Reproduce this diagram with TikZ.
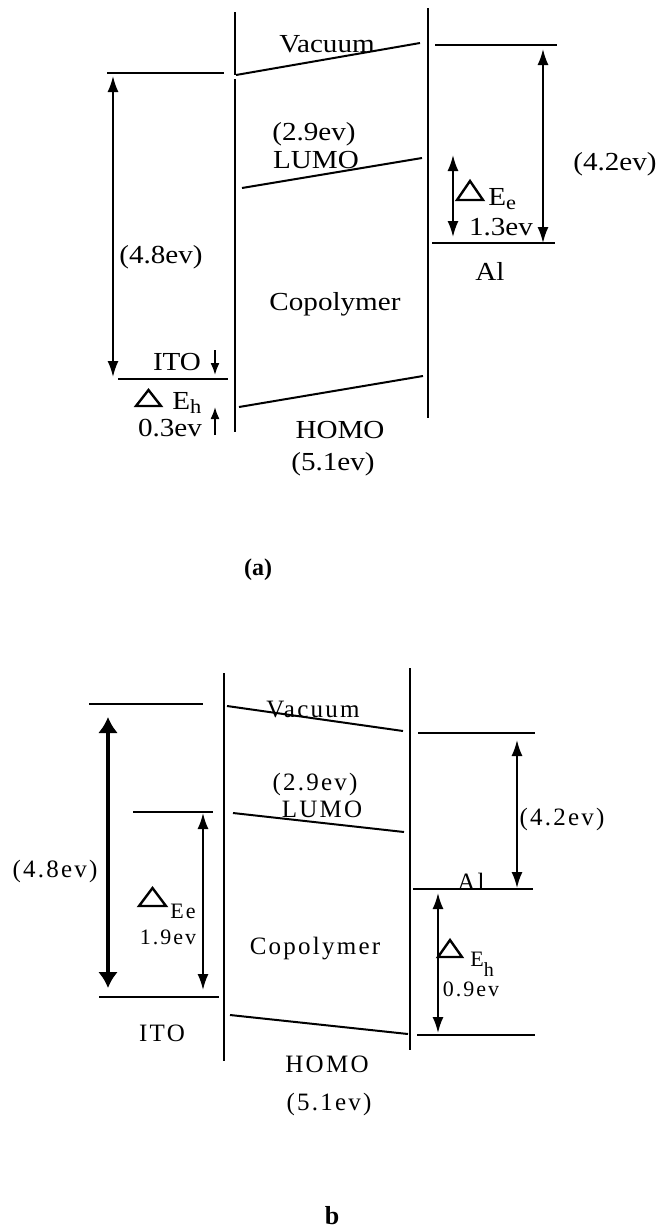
\documentclass[tikz,border=0pt]{standalone}
\usepackage{fontspec}
\setmainfont{Liberation Serif}
\newfontfamily\widefont[FakeStretch=1.12]{Liberation Serif}
\newfontfamily\spacedfont[LetterSpace=9]{Liberation Serif}
\usepackage{tikz}
\usetikzlibrary{arrows.meta}
\newcommand{\lowsub}[3]{\raisebox{-#1}{\fontsize{#2}{#2}\selectfont #3}}
\tikzset{
  wall/.style={line width=1.3pt},
  lvl/.style={line width=1pt},
  tri/.style={line width=1.2pt,line join=miter},
  darr/.style={{Latex[length=8pt,width=5.5pt]}-{Latex[length=8pt,width=5.5pt]},line width=0.9pt},
  sarr/.style={-{Latex[length=6pt,width=4.5pt]},line width=0.9pt},
  bigarr/.style={{Latex[length=8pt,width=10pt]}-{Latex[length=8pt,width=10pt]},line width=1.8pt},
  lbla/.style={font=\widefont\fontsize{13}{16}\selectfont,inner sep=0pt,anchor=base},
  lblb/.style={font=\spacedfont\fontsize{12.5}{15}\selectfont,inner sep=0pt,anchor=base},
  lblbs/.style={font=\spacedfont\fontsize{11}{13}\selectfont,inner sep=0pt,anchor=base},
}

\begin{document}
\begin{tikzpicture}[x=0.5pt,y=-0.5pt]
  \useasboundingbox (0,0) rectangle (661,1227);
  % (a)
  \draw[wall] (235,12) -- (235,75);
  \draw[wall] (235,79) -- (235,432);
  \draw[wall] (428,8) -- (428,418);
  \draw[lvl] (107,73) -- (224,73);
  \draw[lvl] (236,75) -- (420,43);
  \draw[lvl] (435,45) -- (557,45);
  \draw[lvl] (242,188) -- (422,158);
  \draw[lvl] (432,243) -- (555,243);
  \draw[lvl] (118,379) -- (228,379);
  \draw[lvl] (239,407) -- (423,376);
  \coordinate (itoTopA) at (113,76);
  \coordinate (itoBotA) at (113,377);
  \coordinate (alTopA) at (543,49);
  \coordinate (alBotA) at (543,243);
  \coordinate (eeTopA) at (453,155);
  \coordinate (eeBotA) at (453,237);
  \coordinate (ehDownS) at (215,350);
  \coordinate (ehDownE) at (215,375);
  \coordinate (ehUpS) at (215,435);
  \coordinate (ehUpE) at (215,407);
  \draw[darr] (itoTopA) -- (itoBotA);
  \draw[darr] (alTopA) -- (alBotA);
  \draw[darr] (eeTopA) -- (eeBotA);
  \draw[sarr] (ehDownS) -- (ehDownE);
  \draw[sarr] (ehUpS) -- (ehUpE);
  \draw[tri] (136,406) -- (148.5,390) -- (161,406) -- cycle;
  \draw[tri] (457,200) -- (470,181) -- (483,200) -- cycle;
  \node[lbla] (vacA) at (327,52) {Vacuum};
  \node[lbla] (lumoEvA) at (314,140) {(2.9ev)};
  \node[lbla] (lumoA) at (316,168) {LUMO};
  \node[lbla] (itoEvA) at (161,263) {(4.8ev)};
  \node[lbla] (copA) at (335,310) {Copolymer};
  \node[lbla] (itoA) at (177,370) {ITO};
  \node[lbla,anchor=base west] (ehA) at (172,409) {E\lowsub{2pt}{10}{h}};
  \node[lbla] (ehValA) at (170,436) {0.3ev};
  \node[lbla] (homoA) at (340,438) {HOMO};
  \node[lbla] (homoEvA) at (333,470) {(5.1ev)};
  \node[lbla] (alA) at (490,280) {Al};
  \node[lbla] (alEvA) at (615,170) {(4.2ev)};
  \node[lbla,anchor=base west] (eeA) at (488,205) {E\lowsub{2pt}{10}{e}};
  \node[lbla] (eeValA) at (501,235) {1.3ev};
  \node[lbla,font=\bfseries\fontsize{12}{14}\selectfont] (capA) at (258,575) {(a)};
  % (b)
  \draw[wall] (224,673) -- (224,1061);
  \draw[wall] (410,668) -- (410,1050);
  \draw[lvl] (89,704) -- (203,704);
  \draw[lvl] (227,706) -- (403,731);
  \draw[lvl] (418,733) -- (535,733);
  \draw[lvl] (233,813) -- (404,832);
  \draw[lvl] (133,812) -- (213,812);
  \draw[lvl] (413,889) -- (533,889);
  \draw[lvl] (99,997) -- (219,997);
  \draw[lvl] (230,1015) -- (408,1034);
  \draw[lvl] (417,1035) -- (535,1035);
  \coordinate (itoTopB) at (108,717);
  \coordinate (itoBotB) at (108,988);
  \coordinate (eeTopB) at (203,813);
  \coordinate (eeBotB) at (203,990);
  \coordinate (alTopB) at (517,740);
  \coordinate (alBotB) at (517,888);
  \coordinate (ehTopB) at (438,893);
  \coordinate (ehBotB) at (438,1033);
  \draw[bigarr] (itoTopB) -- (itoBotB);
  \draw[darr] (eeTopB) -- (eeBotB);
  \draw[darr] (alTopB) -- (alBotB);
  \draw[darr] (ehTopB) -- (ehBotB);
  \draw[tri] (139,906) -- (152.5,888) -- (166,906) -- cycle;
  \draw[tri] (438,957) -- (450,940) -- (462,957) -- cycle;
  \node[lblb] (vacB) at (313,717) {Vacuum};
  \node[lblb] (lumoEvB) at (315,790) {(2.9ev)};
  \node[lblb] (lumoB) at (322,817) {LUMO};
  \node[lblb] (itoEvB) at (55,877) {(4.8ev)};
  \node[lblbs,anchor=base west] (eeB) at (170,918) {Ee};
  \node[lblbs] (eeValB) at (168,944) {1.9ev};
  \node[lblb] (copB) at (315,954) {Copolymer};
  \node[lblb] (itoB) at (162,1041) {ITO};
  \node[lblb] (homoB) at (327,1072) {HOMO};
  \node[lblb] (homoEvB) at (329,1110) {(5.1ev)};
  \node[lblb] (alEvB) at (562,825) {(4.2ev)};
  \node[lblb] (alB) at (471,890) {Al};
  \node[lblbs,anchor=base west] (ehB) at (470,966) {E\lowsub{5pt}{10}{h}};
  \node[lblbs] (ehValB) at (471,996) {0.9ev};
  \node[lbla,font=\bfseries\fontsize{13}{15}\selectfont] (capB) at (332,1224) {b};
\end{tikzpicture}
\end{document}
